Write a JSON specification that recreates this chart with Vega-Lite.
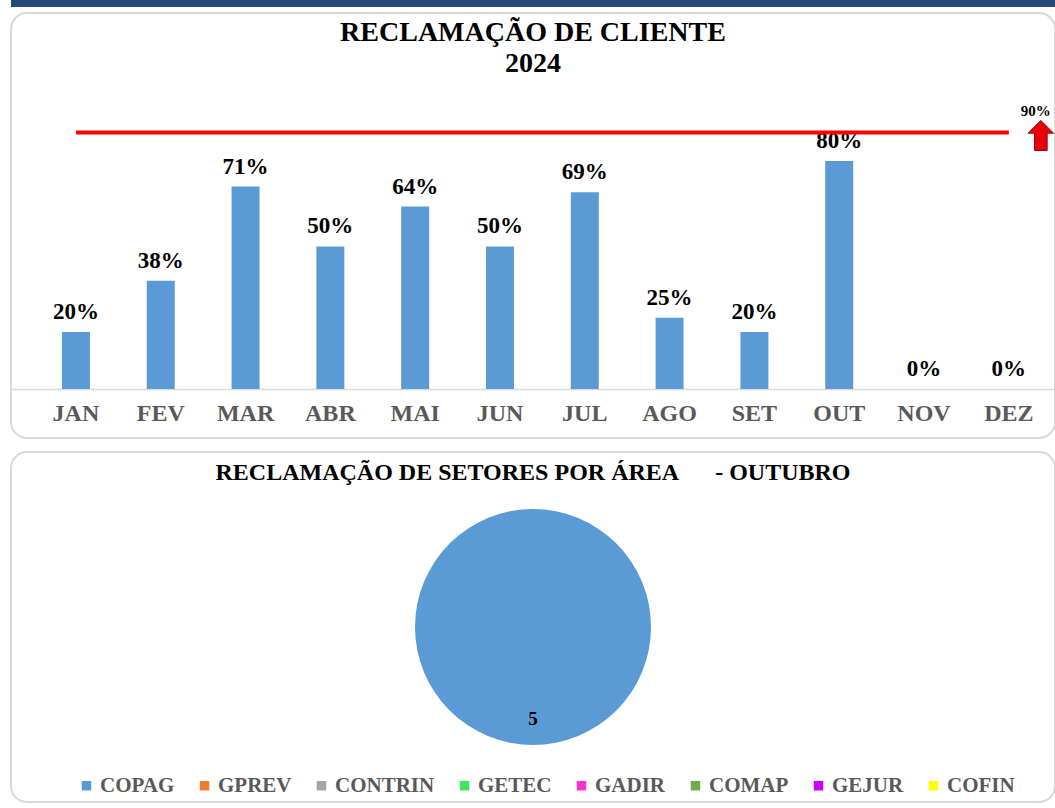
{
  "$schema": "https://vega.github.io/schema/vega-lite/v6.json",
  "background": "white",
  "padding": {"left": 10, "top": 0, "right": 0, "bottom": 0},
  "config": {"font": "Liberation Serif", "view": {"stroke": null}},
  "spacing": 5,
  "vconcat": [
    {
      "width": 1044,
      "height": 7,
      "view": {"fill": "#234a78", "stroke": null},
      "data": {"values": [{"a": 1}]},
      "mark": {"type": "point", "opacity": 0},
      "encoding": {}
    },
    {
      "spacing": 12,
      "vconcat": [
        {
          "width": 1044,
          "height": 425,
          "view": {"stroke": "#d9d9d9", "strokeWidth": 2, "cornerRadius": 16, "fill": "white"},
          "title": {
            "text": ["RECLAMAÇÃO DE CLIENTE", "2024"],
            "font": "Liberation Serif",
            "fontSize": 28,
            "fontWeight": "bold",
            "color": "#000000",
            "anchor": "middle",
            "frame": "group",
            "orient": "top",
            "offset": -87,
            "baseline": "alphabetic",
            "lineHeight": 31
          },
          "data": {
            "values": [
              {"mes": "JAN", "pct": 0.20},
              {"mes": "FEV", "pct": 0.38},
              {"mes": "MAR", "pct": 0.71},
              {"mes": "ABR", "pct": 0.50},
              {"mes": "MAI", "pct": 0.64},
              {"mes": "JUN", "pct": 0.50},
              {"mes": "JUL", "pct": 0.69},
              {"mes": "AGO", "pct": 0.25},
              {"mes": "SET", "pct": 0.20},
              {"mes": "OUT", "pct": 0.80},
              {"mes": "NOV", "pct": 0.0},
              {"mes": "DEZ", "pct": 0.0}
            ]
          },
          "layer": [
            {
              "mark": {"type": "bar", "color": "#5b9bd5"},
              "encoding": {
                "x": {
                  "field": "mes",
                  "type": "nominal",
                  "sort": null,
                  "scale": {"paddingInner": 0.67, "paddingOuter": 0.49, "align": 0.613},
                  "axis": {
                    "title": null,
                    "orient": "bottom",
                    "offset": -49,
                    "ticks": false,
                    "domainColor": "#d9d9d9",
                    "domainWidth": 1.5,
                    "labelFont": "Liberation Serif",
                    "labelFontSize": 24,
                    "labelFontWeight": "bold",
                    "labelColor": "#595959",
                    "labelPadding": 12,
                    "labelAngle": 0
                  }
                },
                "y": {
                  "field": "pct",
                  "type": "quantitative",
                  "scale": {"domain": [-0.172, 1.319], "nice": false, "zero": false},
                  "axis": null
                },
                "y2": {"datum": 0}
              }
            },
            {
              "mark": {"type": "text", "font": "Liberation Serif", "fontSize": 23, "fontWeight": "bold", "color": "#000000", "baseline": "alphabetic", "dy": -13},
              "encoding": {
                "x": {"field": "mes", "type": "nominal", "sort": null},
                "y": {"field": "pct", "type": "quantitative"},
                "text": {"field": "pct", "type": "quantitative", "format": ".0%"}
              }
            },
            {
              "data": {"values": [{"de": "JAN", "ate": "DEZ", "meta": 0.9}]},
              "mark": {"type": "rule", "color": "#ff0000", "strokeWidth": 4},
              "encoding": {
                "x": {"field": "de", "type": "nominal", "sort": null},
                "x2": {"field": "ate"},
                "y": {"field": "meta", "type": "quantitative"}
              }
            },
            {
              "data": {"values": [{"mes": "DEZ", "meta": 0.9}]},
              "mark": {
                "type": "point",
                "shape": "M0,-1 L0.85,-0.15 L0.42,-0.15 L0.42,1 L-0.42,1 L-0.42,-0.15 L-0.85,-0.15 Z",
                "filled": true,
                "fill": "#e8000b",
                "stroke": "#9a0000",
                "strokeWidth": 1,
                "opacity": 1,
                "size": 900,
                "xOffset": 32,
                "yOffset": 3
              },
              "encoding": {
                "x": {"field": "mes", "type": "nominal", "sort": null},
                "y": {"field": "meta", "type": "quantitative"}
              }
            },
            {
              "data": {"values": [{"mes": "DEZ", "meta": 0.9}]},
              "mark": {"type": "text", "font": "Liberation Serif", "fontSize": 15, "fontWeight": "bold", "color": "#000000", "baseline": "middle", "dx": 27, "dy": -21},
              "encoding": {
                "x": {"field": "mes", "type": "nominal", "sort": null},
                "y": {"field": "meta", "type": "quantitative"},
                "text": {"field": "meta", "type": "quantitative", "format": ".0%"}
              }
            }
          ]
        },
        {
          "width": 1044,
          "height": 350,
          "view": {"stroke": "#d9d9d9", "strokeWidth": 2, "cornerRadius": 16, "fill": "white"},
          "title": {
            "text": "RECLAMAÇÃO DE SETORES POR ÁREA\u00a0\u00a0\u00a0\u00a0\u00a0\u00a0- OUTUBRO",
            "font": "Liberation Serif",
            "fontSize": 24,
            "fontWeight": "bold",
            "color": "#000000",
            "anchor": "middle",
            "frame": "group",
            "orient": "top",
            "offset": -52,
            "baseline": "alphabetic"
          },
          "data": {
            "values": [
              {"setor": "COPAG", "qtd": 5},
              {"setor": "GPREV", "qtd": 0},
              {"setor": "CONTRIN", "qtd": 0},
              {"setor": "GETEC", "qtd": 0},
              {"setor": "GADIR", "qtd": 0},
              {"setor": "COMAP", "qtd": 0},
              {"setor": "GEJUR", "qtd": 0},
              {"setor": "COFIN", "qtd": 0}
            ]
          },
          "layer": [
            {
              "mark": {"type": "arc", "outerRadius": 118},
              "encoding": {
                "theta": {"field": "qtd", "type": "quantitative", "stack": true},
                "color": {
                  "field": "setor",
                  "type": "nominal",
                  "sort": null,
                  "scale": {
                    "domain": ["COPAG", "GPREV", "CONTRIN", "GETEC", "GADIR", "COMAP", "GEJUR", "COFIN"],
                    "range": ["#5b9bd5", "#ed7d31", "#a5a5a5", "#3ee85a", "#ff33cc", "#70ad47", "#cc00ff", "#ffff00"]
                  },
                  "legend": {
                    "title": null,
                    "orient": "none",
                    "legendX": 65,
                    "legendY": 775,
                    "direction": "horizontal",
                    "symbolType": "square",
                    "symbolSize": 90,
                    "symbolStrokeWidth": 0,
                    "labelFont": "Liberation Serif",
                    "labelFontSize": 21,
                    "labelFontWeight": "bold",
                    "labelColor": "#595959",
                    "labelOffset": 3,
                    "columnPadding": 19,
                    "padding": 0
                  }
                }
              }
            },
            {
              "transform": [{"filter": "datum.qtd > 0"}],
              "mark": {"type": "text", "radius": 92, "font": "Liberation Serif", "fontSize": 19, "fontWeight": "bold", "color": "#000000", "baseline": "middle"},
              "encoding": {
                "theta": {"field": "qtd", "type": "quantitative", "stack": true},
                "text": {"field": "qtd", "type": "quantitative"}
              }
            }
          ]
        }
      ]
    }
  ]
}
